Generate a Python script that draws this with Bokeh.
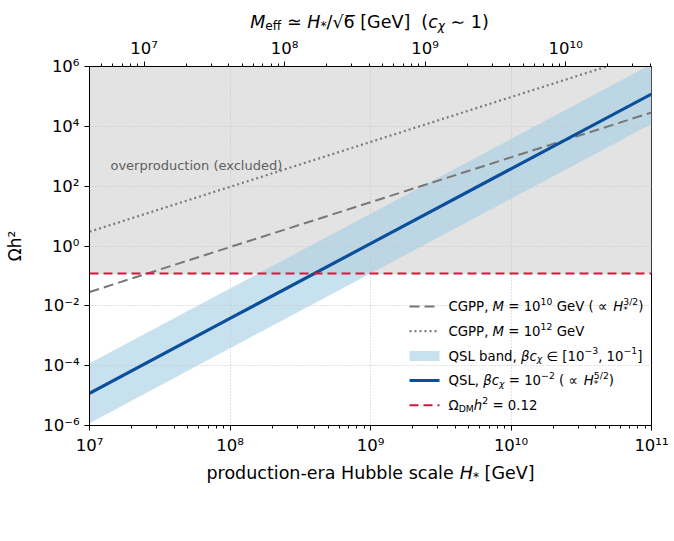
import math

from bokeh.embed import file_html
from bokeh.layouts import column
from bokeh.models import (Arrow, BoxAnnotation, CustomJSTickFormatter, FixedTicker,
                          Label, LogAxis, LogScale, Range1d)
from bokeh.plotting import figure
from bokeh.resources import INLINE

# ---------------------------------------------------------------- data
H_STAR = [1e7, 1e8, 1e9, 1e10, 1e11]                 # Hubble scale H_* [GeV]
QSL_MID = [1.2e-5, 3.8e-3, 1.2, 380.0, 1.2e5]         # QSL, beta c_chi = 1e-2
QSL_HI = [1.2e-4, 3.8e-2, 12.0, 3800.0, 1.2e6]        # beta c_chi = 1e-1
QSL_LO = [1.2e-6, 3.8e-4, 0.12, 38.0, 1.2e4]          # beta c_chi = 1e-3
CGPP_M10 = [0.029, 0.92, 29.0, 920.0, 2.9e4]          # CGPP, M = 1e10 GeV
CGPP_M12 = [3.0, 95.0, 3000.0, 9.5e4, 3.0e6]          # CGPP, M = 1e12 GeV
OMEGA_DM = 0.12                                      # observed relic density
EXCLUDED_TOP = 1e6

X_RANGE = (1e7, 1e11)
Y_RANGE = (1e-6, 1e6)
SQRT6 = math.sqrt(6.0)

X_TICKS = [1e7, 1e8, 1e9, 1e10, 1e11]
Y_TICKS = [1e-6, 1e-4, 1e-2, 1e0, 1e2, 1e4, 1e6]
TOP_TICKS = [1e7, 1e8, 1e9, 1e10]

FONT = "DejaVu Sans"
INK = "#000000"
W = 674
TOP_STRIP_H, MAIN_H, BOTTOM_STRIP_H = 35, 426, 80

# --------------------------------------------------------------- main figure
p = figure(width=W, height=MAIN_H, x_axis_type="log", y_axis_type="log",
           x_range=Range1d(*X_RANGE), y_range=Range1d(*Y_RANGE),
           output_backend="svg", toolbar_location=None,
           min_border_left=89, min_border_right=23,
           min_border_top=29, min_border_bottom=36)
p.background_fill_color = "white"
p.border_fill_color = "white"
p.outline_line_color = INK
p.outline_line_width = 1
p.outline_line_alpha = 1

# shaded overproduction region and QSL band (under the grid)
p.varea(x=list(X_RANGE), y1=[OMEGA_DM, OMEGA_DM], y2=[EXCLUDED_TOP, EXCLUDED_TOP],
        fill_color="#e3e3e3", level="image")
p.varea(x=H_STAR, y1=QSL_LO, y2=QSL_HI, fill_color="#a6cee3", fill_alpha=0.62,
        level="image")

# curves
p.line(H_STAR, CGPP_M10, line_color="#777777", line_width=2, line_dash="10 5")
p.line(H_STAR, CGPP_M12, line_color="#7a7a7a", line_width=2.2, line_dash="2 3")
p.line(H_STAR, QSL_MID, line_color="#0b4f9c", line_width=3.2)
p.line(list(X_RANGE), [OMEGA_DM, OMEGA_DM], line_color="#dc143c", line_width=2,
       line_dash="9 5")

p.add_layout(Label(x=1.41e7, y=500, text="overproduction (excluded)",
                   text_font=FONT, text_font_size="13px",
                   text_color="#606060", text_baseline="middle"))

# grid
p.grid.grid_line_color = "#c4c4c4"
p.grid.grid_line_dash = "1 2"
p.grid.grid_line_width = 1

# tick labels as 10 with unicode superscript exponent
POW_FMT = CustomJSTickFormatter(code="""
const sup = {"0":"\u2070","1":"\u00b9","2":"\u00b2","3":"\u00b3","4":"\u2074",
             "5":"\u2075","6":"\u2076","7":"\u2077","8":"\u2078","9":"\u2079","-":"\u207b"};
const e = Math.round(Math.log10(tick));
return "10" + String(e).split("").map(c => sup[c]).join("");
""")


def decade_minors(lo, hi):
    out = []
    e = math.floor(math.log10(lo))
    while 10 ** e <= hi:
        for m in range(2, 10):
            v = m * 10 ** e
            if lo <= v <= hi:
                out.append(v)
        e += 1
    return out


def style_axis(ax):
    ax.formatter = POW_FMT
    ax.axis_line_color = INK
    ax.axis_line_width = 1
    ax.major_tick_line_color = INK
    ax.minor_tick_line_color = INK
    ax.major_tick_out = 5
    ax.major_tick_in = 0
    ax.minor_tick_out = 3
    ax.minor_tick_in = 0
    ax.major_label_text_font = FONT
    ax.major_label_text_font_size = "16.5px"
    ax.major_label_text_color = INK
    ax.major_label_standoff = 5


p.xaxis.ticker = FixedTicker(ticks=X_TICKS, minor_ticks=decade_minors(*X_RANGE))
p.yaxis.ticker = FixedTicker(ticks=Y_TICKS, minor_ticks=[])
for ax in list(p.xaxis) + list(p.yaxis):
    style_axis(ax)

p.yaxis.axis_label = "\u03a9h\u00b2"
p.yaxis.axis_label_text_font = FONT
p.yaxis.axis_label_text_font_size = "17px"
p.yaxis.axis_label_text_font_style = "normal"
p.yaxis.axis_label_text_color = INK
p.yaxis.axis_label_standoff = 15

# secondary axis: M_eff = H_* / sqrt(6)
p.extra_x_ranges = {"meff": Range1d(X_RANGE[0] / SQRT6, X_RANGE[1] / SQRT6)}
p.extra_x_scales = {"meff": LogScale()}
top_axis = LogAxis(x_range_name="meff",
                   ticker=FixedTicker(ticks=TOP_TICKS,
                                      minor_ticks=decade_minors(X_RANGE[0] / SQRT6,
                                                                X_RANGE[1] / SQRT6)))
style_axis(top_axis)
top_axis.major_label_standoff = 4
p.add_layout(top_axis, "above")


# -------------------------------------------- strips holding the axis titles
def strip(height):
    s = figure(width=W, height=height, x_range=Range1d(0, W), y_range=Range1d(0, height),
               output_backend="svg", toolbar_location=None, min_border=0,
               x_axis_location=None, y_axis_location=None)
    s.outline_line_color = None
    s.background_fill_color = "white"
    s.border_fill_color = "white"
    s.grid.visible = False
    return s


top_strip = strip(TOP_STRIP_H)
bottom_strip = strip(BOTTOM_STRIP_H)

# ------------------------------------------------ rich text (sub/superscripts)
EM = {" ": .318, "(": .390, ")": .390, "*": .500, ",": .318, "-": .361, ".": .318,
      "/": .337, "=": .838, "[": .390, "]": .390, "0": .636, "1": .636, "2": .636,
      "3": .636, "4": .636, "5": .636, "6": .636, "7": .636, "8": .636, "9": .636,
      "A": .684, "B": .686, "C": .698, "D": .770, "G": .775, "H": .752, "L": .557,
      "M": .863, "P": .603, "Q": .787, "S": .635, "V": .684, "a": .613, "b": .635,
      "c": .550, "d": .635, "e": .615, "f": .352, "h": .634, "i": .278, "l": .278,
      "n": .634, "o": .612, "p": .635, "r": .411, "s": .521, "t": .392, "u": .634,
      "x": .592, "\u03b2": .636, "\u03c7": .592, "\u03a9": .764, "\u221d": .838,
      "\u2208": .871, "\u2243": .838, "\u223c": .838, "\u2212": .838, "\u221a": .636,
      "\u0305": 0.0}
BASELINE_LIFT = 4.5   # rendered alphabetic baseline sits a little low


def em_width(s):
    return sum(EM.get(ch, 0.6) for ch in s)


def rich_text(fig, x0, y0, runs, size, color=INK, anchor="left"):
    """Draw runs of (text, style, kind[, advance]) with baseline at frame px (x0, y0)."""
    def run_size(kind):
        return size * 0.7 if kind in ("sup", "sub") else size

    y0 = y0 + BASELINE_LIFT
    total = 0.0
    for run in runs:
        if len(run) < 4 or run[3]:
            total += em_width(run[0]) * run_size(run[2])
    x = x0 - total / 2 if anchor == "center" else x0
    for run in runs:
        txt, style, kind = run[:3]
        advance = run[3] if len(run) > 3 else True
        fs = run_size(kind)
        dy = 0.40 * size if kind == "sup" else (-0.20 * size if kind == "sub" else 0.0)
        core = txt.strip(" ")
        lead = len(txt) - len(txt.lstrip(" "))
        trail = len(txt) - len(txt.rstrip(" ")) if core else 0
        cx = x + lead * EM[" "] * fs
        if core:
            fig.add_layout(Label(x=cx, y=y0 + dy, x_units="screen", y_units="screen",
                                 text=core, text_font=FONT,
                                 text_font_size=f"{fs:.1f}px", text_font_style=style,
                                 text_color=color, text_align="left",
                                 text_baseline="alphabetic"))
        if advance:
            x = cx + em_width(core) * fs + trail * EM[" "] * fs


N, I = "normal", "italic"

# x-axis title (strip frames line up with the main frame, so x is frame-relative)
rich_text(bottom_strip, 281, 64,
          [("production-era Hubble scale ", N, ""), ("H", I, ""),
           ("*", N, "sub"), (" [GeV]", N, "")], 17.5, anchor="center")
# top-axis title
rich_text(top_strip, 280, 9,
          [("M", I, ""), ("eff", N, "sub"), (" \u2243 ", N, ""),
           ("H", I, ""), ("*", N, "sub"), ("/\u221a6\u0305", N, ""),
           (" [GeV]", N, ""), ("  (", N, ""), ("c", I, ""),
           ("\u03c7", I, "sub"), (" \u223c 1)", N, "")], 17.5, anchor="center")

# ---------------------------------------------------------------- legend
LEG_X0, LEG_X1, LEG_TX = 320, 350, 359
LEG_ROWS = [119, 94.3, 69.6, 45, 20.2]
LEG_FS = 13.3


def leg_line(row, color, width, dash):
    y = LEG_ROWS[row]
    p.add_layout(Arrow(end=None, x_start=LEG_X0, y_start=y, x_end=LEG_X1, y_end=y,
                       start_units="screen", end_units="screen",
                       line_color=color, line_width=width, line_dash=dash))


leg_line(0, "#777777", 2, "10 5")
leg_line(1, "#7a7a7a", 2.2, "2 3")
p.add_layout(BoxAnnotation(left=LEG_X0, right=LEG_X1, bottom=LEG_ROWS[2] - 5,
                           top=LEG_ROWS[2] + 5, left_units="screen",
                           right_units="screen", top_units="screen",
                           bottom_units="screen", fill_color="#a6cee3",
                           fill_alpha=0.62, line_color=None))
leg_line(3, "#0b4f9c", 3.2, "solid")
leg_line(4, "#dc143c", 2, "9 5")

LEG_TEXT = [
    [("CGPP, ", N, ""), ("M", I, ""), (" = 10", N, ""), ("10", N, "sup"),
     (" GeV ( \u221d ", N, ""), ("H", I, ""), ("*", N, "sub", False), ("3/2", N, "sup"),
     (")", N, "")],
    [("CGPP, ", N, ""), ("M", I, ""), (" = 10", N, ""), ("12", N, "sup"),
     (" GeV", N, "")],
    [("QSL band, ", N, ""), ("\u03b2c", I, ""), ("\u03c7", I, "sub"),
     (" \u2208 [10", N, ""), ("\u22123", N, "sup"), (", 10", N, ""),
     ("\u22121", N, "sup"), ("]", N, "")],
    [("QSL, ", N, ""), ("\u03b2c", I, ""), ("\u03c7", I, "sub"), (" = 10", N, ""),
     ("\u22122", N, "sup"), (" ( \u221d ", N, ""), ("H", I, ""),
     ("*", N, "sub", False), ("5/2", N, "sup"), (")", N, "")],
    [("\u03a9", N, ""), ("DM", N, "sub"), ("h", I, ""), ("2", N, "sup"),
     (" = 0.12", N, "")],
]
for row, runs in enumerate(LEG_TEXT):
    rich_text(p, LEG_TX, LEG_ROWS[row] - 4.8, runs, LEG_FS)

layout = column(top_strip, p, bottom_strip, spacing=0)
open("out.html", "w").write(file_html(layout, INLINE))
